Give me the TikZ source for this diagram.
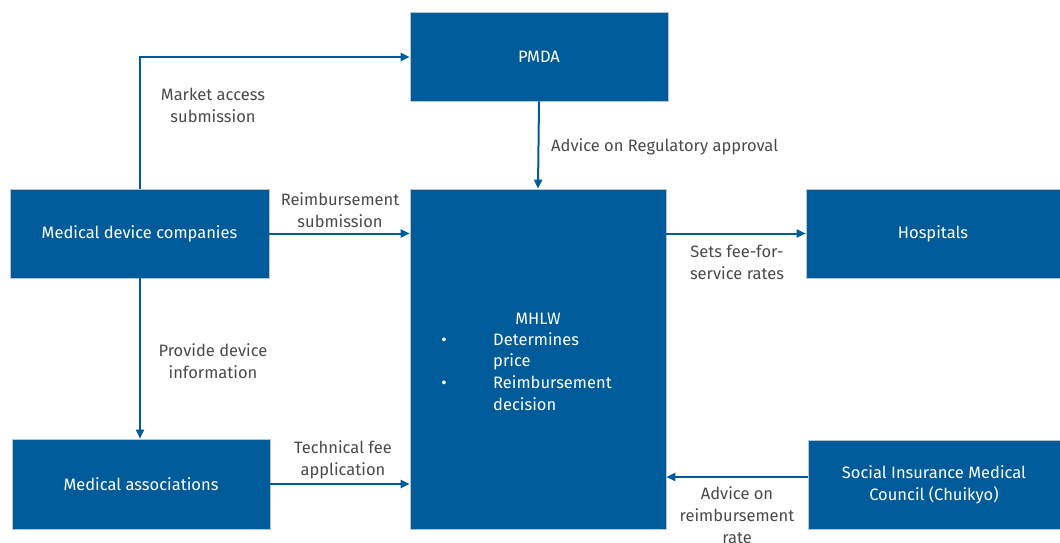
\documentclass[tikz,border=0pt]{standalone}
\usepackage{fontspec}
\setmainfont{Fira Sans}
\usetikzlibrary{arrows.meta}
\definecolor{boxblue}{HTML}{005B9A}
\definecolor{boxedge}{HTML}{B8C4CE}
\definecolor{lbl}{HTML}{4A4A4A}
\begin{document}
\begin{tikzpicture}[x=1pt,y=-1pt,
  fnt/.style={font=\fontsize{16.5}{22}\selectfont},
  blk/.style={fnt,fill=boxblue,draw=boxedge,line width=0.6pt,text=white,align=center,inner sep=0pt},
  conn/.style={draw=boxblue,line width=2pt,-{Triangle[length=9pt,width=8pt]}},
  lab/.style={fnt,text=lbl,align=center,inner sep=1pt},
  wt/.style={fnt,text=white,inner sep=0pt}]
\useasboundingbox (0,0) rectangle (1060,543);
\node[blk,minimum width=258pt,minimum height=89pt] (pmda) at (539,56.5) {PMDA};
\node[blk,minimum width=259pt,minimum height=89pt] (mdc) at (139.5,233.5) {Medical device companies};
\node[blk,minimum width=256pt,minimum height=340pt] (mhlw) at (538,359) {};
\node[blk,minimum width=254pt,minimum height=89pt] (hosp) at (933,233.5) {Hospitals};
\node[blk,minimum width=258pt,minimum height=90pt] (ma) at (141,484) {Medical associations};
\node[blk,minimum width=252pt,minimum height=89pt] (sic) at (934,484.5) {Social Insurance Medical\\Council (Chuikyo)};
% MHLW text
\node[wt,anchor=base] (mt) at (538,324) {MHLW};
\node[wt,anchor=base] (b1) at (444,345) {\textbullet};
\node[wt,anchor=base] (b2) at (444,388) {\textbullet};
\node[wt,anchor=base west] (t1) at (493,345) {Determines};
\node[wt,anchor=base west] (t2) at (493,366) {price};
\node[wt,anchor=base west] (t3) at (493,388) {Reimbursement};
\node[wt,anchor=base west] (t4) at (493,410) {decision};
% connectors
\coordinate (c1b) at (140,57);
\draw[conn] (mdc.north -| c1b) -- (c1b) -- (pmda.west |- c1b);
\node[lab] (l1) at (213,105) {Market access\\submission};
\draw[conn] (pmda.south) -- (mhlw.north);
\node[lab,anchor=west] (l2) at (550,147) {Advice on Regulatory approval};
\draw[conn] (mdc.east) -- (mhlw.west |- mdc.east);
\node[lab] (l3) at (340,210) {Reimbursement\\submission};
\draw[conn] (mhlw.east |- hosp.west) -- (hosp.west);
\node[lab] (l4) at (737,262) {Sets fee-for-\\service rates};
\draw[conn] (mdc.south -| c1b) -- (ma.north -| c1b);
\node[lab] (l5) at (213,361) {Provide device\\information};
\draw[conn] (ma.east) -- (mhlw.west |- ma.east);
\node[lab] (l6) at (343,460) {Technical fee\\application};
\coordinate (c7) at (0,477);
\draw[conn] (sic.west |- c7) -- (mhlw.east |- c7);
\node[lab] (l7) at (737,515) {Advice on\\reimbursement\\rate};
\end{tikzpicture}
\end{document}
